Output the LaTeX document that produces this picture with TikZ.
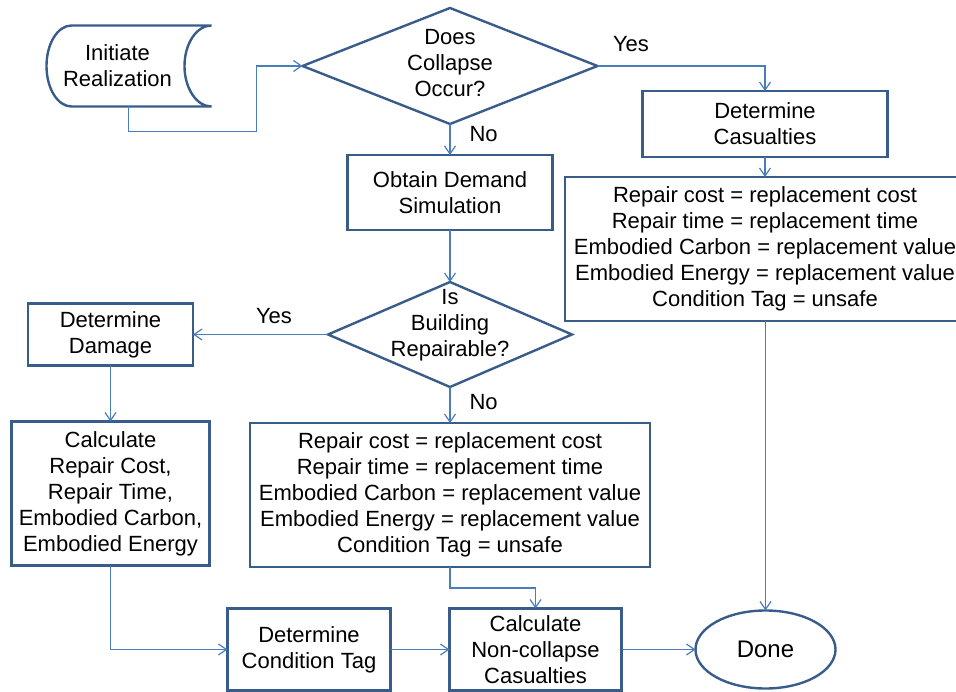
\documentclass[tikz,border=0pt]{standalone}
\usepackage{fontspec}
\setmainfont{Liberation Sans}
\usetikzlibrary{arrows.meta, positioning, shapes.geometric}
\definecolor{flowblue}{HTML}{385D8A}
\definecolor{linkblue}{HTML}{4A7EBB}

\begin{document}
\begin{tikzpicture}[
    x=1pt, y=1pt,
    font=\fontsize{22}{26}\selectfont,
    box/.style={draw=flowblue, line width=2.4pt, align=center, inner sep=0pt, outer sep=0pt},
    decision/.style={diamond, draw=flowblue, line width=2.4pt, inner sep=0pt, outer sep=0pt},
    dtext/.style={align=center, inner sep=0pt, outer sep=0pt},
    flow/.style={-{Straight Barb[length=8pt, width=11pt]}, draw=linkblue, line width=1.2pt},
    answer/.style={inner sep=0pt},
]
\useasboundingbox (0,0) rectangle (956,-692);

% Collapse check
\node[decision, minimum width=295pt, minimum height=116pt,
      label={[dtext, yshift=3pt]center:Does\\Collapse\\Occur?}] (collapse) at (450,-66) {};

% Start
\node[dtext, minimum width=138pt, minimum height=81pt, left=118pt of collapse, xshift=2pt] (init) {Initiate\\Realization};
\draw[draw=flowblue, line width=2.4pt] ([xshift=23pt]init.north west) -- ([xshift=25pt]init.north east)
    arc[start angle=90, end angle=270, x radius=27pt, y radius=40.5pt]
    -- ([xshift=23pt]init.south west)
    arc[start angle=270, end angle=90, x radius=25pt, y radius=40.5pt] -- cycle;

% Collapse branch
\node[box, minimum width=245pt, minimum height=66pt, below right=25pt and 45pt of collapse.east] (casualty) {Determine\\Casualties};
\node[box, minimum width=400pt, minimum height=144pt, below=20pt of casualty] (collapsevals) {Repair cost = replacement cost\\Repair time = replacement time\\Embodied Carbon = replacement value\\Embodied Energy = replacement value\\Condition Tag = unsafe};

% Non-collapse branch
\node[box, minimum width=205pt, minimum height=75pt, below=31pt of collapse] (demand) {Obtain Demand\\Simulation};
\node[decision, minimum width=244pt, minimum height=105pt, below=52pt of demand,
      label={[dtext, yshift=9pt]center:Is\\Building\\Repairable?}] (repairable) {};
\node[box, minimum width=400pt, minimum height=144pt, below=36pt of repairable] (repairvals) {Repair cost = replacement cost\\Repair time = replacement time\\Embodied Carbon = replacement value\\Embodied Energy = replacement value\\Condition Tag = unsafe};

% Repairable branch
\node[box, minimum width=165pt, minimum height=62pt, left=135pt of repairable] (damage) {Determine\\Damage};
\node[box, minimum width=198pt, minimum height=144pt, below=56pt of damage] (calc) {Calculate\\Repair Cost,\\Repair Time,\\Embodied Carbon,\\Embodied Energy};

% Bottom row
\node[box, minimum width=163pt, minimum height=82pt, below right=43pt and 18pt of calc.south east] (tag) {Determine\\Condition Tag};
\node[box, minimum width=172pt, minimum height=82pt, right=59pt of tag] (noncollapse) {Calculate\\Non-collapse\\Casualties};
\node[ellipse, draw=flowblue, line width=2.4pt, minimum width=140pt, minimum height=78pt, inner sep=0pt, outer sep=0pt,
      font=\fontsize{24}{28}\selectfont, right=74pt of noncollapse] (done) {Done};

% Flows
\draw[flow] ([xshift=11pt]init.south) -- ++(0,-25) -| ([xshift=-46pt]collapse.west) -- (collapse.west);
\draw[flow] (collapse.east) -- node[answer, pos=0.2, above=14pt] {Yes} (collapse.east -| casualty.north) -- (casualty.north);
\draw[flow] (collapse.south) -- node[answer, pos=0.32, right=19pt] {No} (demand.north);
\draw[flow] (casualty.south) -- (collapsevals.north);
\draw[flow] (collapsevals.south -| done.north) -- (done.north);
\draw[flow] (demand.south) -- (repairable.north);
\draw[flow] (repairable.west) -- node[answer, pos=0.4, above=10pt] {Yes} (damage.east);
\draw[flow] (repairable.south) -- node[answer, pos=0.42, right=19pt] {No} (repairvals.north);
\draw[flow] (damage.south) -- (calc.north);
\draw[flow] (calc.south) |- (tag.west);
\draw[flow] (repairvals.south) -- ++(0,-21) -| (noncollapse.north);
\draw[flow] (tag.east) -- (noncollapse.west);
\draw[flow] (noncollapse.east) -- (done.west);

\end{tikzpicture}
\end{document}
